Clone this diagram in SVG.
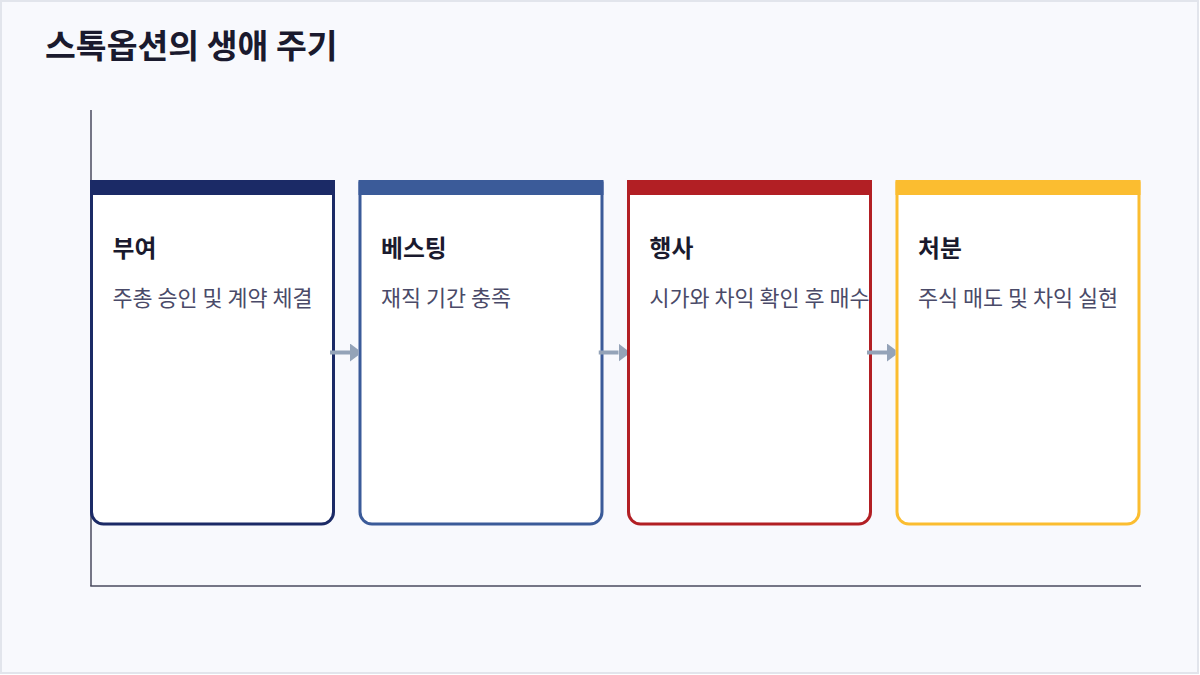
<svg xmlns="http://www.w3.org/2000/svg" width="1200" height="675" viewBox="0 0 1200 675">
  <style>
    .title { font-family: "Noto Sans CJK KR", "Noto Sans", sans-serif; font-weight: 700; font-size: 33.5px; fill: #1a1a2e; }
    .ntitle { font-family: "Noto Sans CJK KR", "Noto Sans", sans-serif; font-weight: 700; font-size: 23.8px; fill: #1a1a2e; }
    .nsub { font-family: "Noto Sans CJK KR", "Noto Sans", sans-serif; font-weight: 400; font-size: 21.8px; fill: #4a4a68; }
    .card { fill: #ffffff; stroke-width: 3; }
    .axis { stroke: #4a4a5e; stroke-width: 1.5; fill: none; }
    .conn { stroke: #94a3b8; stroke-width: 4; fill: none; }
  </style>
  <defs>
    <marker id="arrow" markerUnits="userSpaceOnUse" markerWidth="12" markerHeight="18" viewBox="0 0 12 18" refX="0" refY="9" orient="auto">
      <path d="M0,0 L12,9 L0,18 Z" fill="#94a3b8"/>
    </marker>
    <clipPath id="gaps">
      <rect x="330" y="330" width="28.5" height="44"/>
      <rect x="598.5" y="330" width="28.5" height="44"/>
      <rect x="867" y="330" width="28.5" height="44"/>
    </clipPath>
  </defs>
  <rect x="1" y="1" width="1197" height="672" fill="#f8f9fd" stroke="#e2e5ec" stroke-width="2"/>
  <text class="title" x="45" y="57.5">스톡옵션의 생애 주기</text>
  <g id="axes">
    <line class="axis" x1="91" y1="110" x2="91" y2="586"/>
    <line class="axis" x1="90.25" y1="586" x2="1141" y2="586"/>
  </g>
  <g id="node-grant">
    <path class="card" stroke="#1b2a66" d="M91.5,181.5 V512 A12,12 0 0 0 103.5,524 H321.5 A12,12 0 0 0 333.5,512 V181.5"/>
    <rect x="90" y="180" width="245" height="15" fill="#1b2a66"/>
    <text class="ntitle" x="112.5" y="257">부여</text>
    <text class="nsub" x="112.5" y="306">주총 승인 및 계약 체결</text>
  </g>
  <g id="node-vesting">
    <path class="card" stroke="#3b5b99" d="M360,181.5 V512 A12,12 0 0 0 372,524 H590 A12,12 0 0 0 602,512 V181.5"/>
    <rect x="358.5" y="180" width="245" height="15" fill="#3b5b99"/>
    <text class="ntitle" x="381" y="257">베스팅</text>
    <text class="nsub" x="381" y="306">재직 기간 충족</text>
  </g>
  <g id="node-exercise">
    <path class="card" stroke="#b21f24" d="M628.5,181.5 V512 A12,12 0 0 0 640.5,524 H858.5 A12,12 0 0 0 870.5,512 V181.5"/>
    <rect x="627" y="180" width="245" height="15" fill="#b21f24"/>
    <text class="ntitle" x="649.5" y="257">행사</text>
    <text class="nsub" x="649.5" y="306">시가와 차익 확인 후 매수</text>
  </g>
  <g id="node-disposal">
    <path class="card" stroke="#fbbd30" d="M897,181.5 V512 A12,12 0 0 0 909,524 H1127 A12,12 0 0 0 1139,512 V181.5"/>
    <rect x="895.5" y="180" width="245" height="15" fill="#fbbd30"/>
    <text class="ntitle" x="918" y="257">처분</text>
    <text class="nsub" x="918" y="306">주식 매도 및 차익 실현</text>
  </g>
  <g id="connectors" clip-path="url(#gaps)">
    <line class="conn" x1="330" y1="352.5" x2="350" y2="352.5" marker-end="url(#arrow)"/>
    <line class="conn" x1="598.5" y1="352.5" x2="618.5" y2="352.5" marker-end="url(#arrow)"/>
    <line class="conn" x1="867" y1="352.5" x2="887" y2="352.5" marker-end="url(#arrow)"/>
  </g>
</svg>
